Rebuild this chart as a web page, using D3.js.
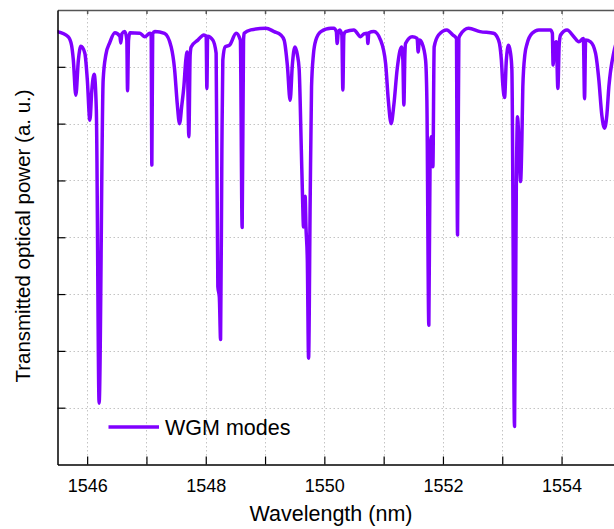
<!DOCTYPE html>
<html>
<head>
<meta charset="utf-8">
<script src="https://cdn.jsdelivr.net/npm/d3@7"></script>
<style>
  html, body { margin: 0; padding: 0; background: #fff; }
  svg text { font-family: Arial, 'Liberation Sans', sans-serif; fill: #000; }
</style>
</head>
<body>
<div id="app"></div>
<script>
(function (d3) {

  'use strict'

  // transmission trace (nm, a.u.)
  const wavelength = [
    1545.50, 1545.68, 1545.737, 1545.767, 1545.809, 1545.852, 1545.894, 1545.961, 1546.003, 1546.046,
    1546.079, 1546.118, 1546.155, 1546.202, 1546.270, 1546.315, 1546.383, 1546.467, 1546.551, 1546.568,
    1546.585, 1546.636, 1546.669, 1546.681, 1546.698, 1546.720, 1546.889, 1546.973, 1547.057, 1547.079,
    1547.091, 1547.105, 1547.142, 1547.305, 1547.417, 1547.474, 1547.521, 1547.558, 1547.597, 1547.631,
    1547.664, 1547.686, 1547.715, 1547.737, 1547.754, 1547.867, 1547.968, 1548.007, 1548.019, 1548.032,
    1548.120, 1548.175, 1548.204, 1548.229, 1548.250, 1548.272, 1548.288, 1548.327, 1548.401, 1548.513,
    1548.583, 1548.614, 1548.637, 1548.648, 1548.761, 1549.014, 1549.153, 1549.266, 1549.322, 1549.376,
    1549.423, 1549.460, 1549.503, 1549.545, 1549.575, 1549.612, 1549.632, 1549.649, 1549.660, 1549.676,
    1549.690, 1549.713, 1549.734, 1549.761, 1549.784, 1549.815, 1549.857, 1549.941, 1550.110, 1550.160,
    1550.202, 1550.216, 1550.236, 1550.261, 1550.295, 1550.312, 1550.329, 1550.358, 1550.498, 1550.611,
    1550.666, 1550.722, 1550.734, 1550.750, 1550.836, 1550.948, 1551.033, 1551.079, 1551.126, 1551.172,
    1551.228, 1551.302, 1551.324, 1551.341, 1551.358, 1551.369, 1551.481, 1551.565, 1551.582, 1551.602,
    1551.649, 1551.707, 1551.729, 1551.762, 1551.784, 1551.804, 1551.830, 1551.852, 1551.926, 1552.066,
    1552.167, 1552.226, 1552.246, 1552.268, 1552.290, 1552.432, 1552.627, 1552.853, 1552.938, 1552.985,
    1553.010, 1553.039, 1553.069, 1553.106, 1553.137, 1553.162, 1553.207, 1553.238, 1553.258, 1553.280,
    1553.309, 1553.331, 1553.347, 1553.381, 1553.420, 1553.504, 1553.617, 1553.815, 1553.845, 1553.858,
    1553.879, 1553.912, 1553.938, 1553.960, 1553.983, 1554.094, 1554.207, 1554.292, 1554.368, 1554.388,
    1554.406, 1554.489, 1554.573, 1554.629, 1554.679, 1554.725, 1554.764, 1554.798, 1554.882, 1554.983
  ]
  const power = [
    7.62, 7.53, 7.38, 7.12, 6.50, 7.12, 7.36, 7.24, 6.77, 6.06,
    6.59, 6.87, 6.24, 1.08, 6.77, 7.21, 7.43, 7.60, 7.54, 7.42,
    7.58, 7.62, 7.47, 6.58, 7.47, 7.60, 7.59, 7.53, 7.59, 7.58,
    5.27, 7.58, 7.62, 7.59, 7.35, 6.96, 6.33, 6.00, 6.33, 6.65,
    7.12, 7.26, 5.77, 7.21, 7.35, 7.47, 7.56, 7.54, 6.62, 7.54,
    7.47, 7.24, 3.13, 2.95, 2.20, 5.53, 7.12, 7.35, 7.38, 7.59,
    7.47, 4.17, 7.47, 7.59, 7.65, 7.68, 7.62, 7.56, 7.47, 7.03,
    6.41, 7.03, 7.35, 7.21, 6.96, 5.53, 4.71, 4.18, 4.20, 4.72,
    4.18, 3.60, 1.87, 4.65, 6.65, 7.21, 7.47, 7.62, 7.68, 7.68,
    7.62, 7.41, 7.62, 7.65, 7.56, 6.59, 7.56, 7.62, 7.65, 7.53,
    7.58, 7.59, 7.41, 7.60, 7.62, 7.47, 7.06, 6.41, 6.00, 6.33,
    6.96, 7.35, 7.12, 6.33, 7.21, 7.41, 7.53, 7.50, 7.26, 7.47,
    7.41, 7.12, 6.41, 2.45, 5.53, 5.77, 5.24, 7.35, 7.56, 7.65,
    7.56, 7.50, 4.04, 7.50, 7.56, 7.68, 7.62, 7.59, 7.47, 7.12,
    6.68, 6.46, 7.12, 7.38, 7.26, 6.96, 0.67, 5.01, 6.12, 5.71,
    4.98, 5.71, 6.65, 7.21, 7.41, 7.59, 7.65, 7.65, 7.59, 7.03,
    7.38, 7.44, 6.62, 7.38, 7.56, 7.65, 7.53, 7.44, 7.50, 6.44,
    7.47, 7.44, 7.24, 6.77, 6.15, 5.92, 6.15, 6.65, 7.26, 7.56
  ]

  const xTicks = [1546, 1547, 1548, 1549, 1550, 1551, 1552, 1553, 1554, 1555]
  const xLabels = [1546, 1548, 1550, 1552, 1554]
  const yTicks = [1, 2, 3, 4, 5, 6, 7]
  const seriesName = 'WGM modes'

  const w = 614
  const h = 529
  const left = 57.5
  const top = 10
  const bottom = 464.5
  const lineColor = '#8000ff'

  const x = d3.scaleLinear().domain([1545.5, 1555.5]).range([left, left + 593])
  const y = d3.scaleLinear().domain([0, 8]).range([bottom, top])

  const svg = d3.select('#app')
    .append('svg')
    .attr('width', w)
    .attr('height', h)

  svg.append('defs').append('clipPath')
    .attr('id', 'plot')
    .append('rect')
    .attr('x', left)
    .attr('y', top)
    .attr('width', w - left)
    .attr('height', bottom - top)

  // dotted grid
  const grid = svg.append('g')
    .attr('stroke', '#c4c4c4')
    .attr('stroke-width', 1)
    .attr('stroke-dasharray', '1.5,2.5')

  grid.selectAll('line.v')
    .data(xTicks)
    .enter()
    .append('line')
    .attr('class', 'v')
    .attr('x1', d => Math.round(x(d)) + 0.5)
    .attr('x2', d => Math.round(x(d)) + 0.5)
    .attr('y1', top)
    .attr('y2', bottom)

  grid.selectAll('line.h')
    .data(yTicks)
    .enter()
    .append('line')
    .attr('class', 'h')
    .attr('x1', left)
    .attr('x2', w)
    .attr('y1', d => Math.round(y(d)) + 0.5)
    .attr('y2', d => Math.round(y(d)) + 0.5)

  // top frame
  svg.append('g')
    .attr('transform', 'translate(0,' + top + ')')
    .call(d3.axisTop(x).tickValues(xTicks).tickSize(-4).tickSizeOuter(0).tickFormat(''))
    .call(g => g.selectAll('path, line').attr('stroke', '#555').attr('stroke-width', 1.5))

  // trace
  const line = d3.line()
    .x((d, i) => x(wavelength[i]))
    .y(d => y(d))
    .curve(d3.curveMonotoneX)

  svg.append('path')
    .datum(power)
    .attr('clip-path', 'url(#plot)')
    .attr('fill', 'none')
    .attr('stroke', lineColor)
    .attr('stroke-width', 3.5)
    .attr('stroke-linejoin', 'round')
    .attr('stroke-linecap', 'round')
    .attr('d', line)

  // bottom axis
  const xAxis = svg.append('g')
    .attr('transform', 'translate(0,' + bottom + ')')
    .call(d3.axisBottom(x)
      .tickValues(xTicks)
      .tickSizeInner(-8)
      .tickSizeOuter(0)
      .tickPadding(14.5)
      .tickFormat(d => xLabels.includes(d) ? d : ''))
  xAxis.select('.domain').attr('stroke', '#000').attr('stroke-width', 1.5)
  xAxis.selectAll('line').attr('stroke', '#000').attr('stroke-width', 1.2)
  xAxis.selectAll('text').style('font-size', '18px')

  // left axis
  const yAxis = svg.append('g')
    .attr('transform', 'translate(' + left + ',0)')
    .call(d3.axisLeft(y).tickValues(yTicks).tickSizeInner(-8).tickSizeOuter(0).tickFormat(''))
  yAxis.select('.domain').attr('stroke', '#000').attr('stroke-width', 1.5)
  yAxis.selectAll('line').attr('stroke', '#000').attr('stroke-width', 1.2)

  // axis titles
  svg.append('text')
    .attr('x', 331)
    .attr('y', 521)
    .attr('text-anchor', 'middle')
    .style('font-size', '21.5px')
    .text('Wavelength (nm)')

  svg.append('text')
    .attr('transform', 'translate(30,236) rotate(-90)')
    .attr('text-anchor', 'middle')
    .style('font-size', '20.5px')
    .text('Transmitted optical power (a. u.)')

  // legend
  const legend = svg.append('g')
  legend.append('line')
    .attr('x1', 108.5)
    .attr('x2', 159)
    .attr('y1', 427)
    .attr('y2', 427)
    .attr('stroke', lineColor)
    .attr('stroke-width', 3.5)
  legend.append('text')
    .attr('x', 165)
    .attr('y', 434.5)
    .style('font-size', '21.5px')
    .text(seriesName)

}(d3))
</script>
</body>
</html>
